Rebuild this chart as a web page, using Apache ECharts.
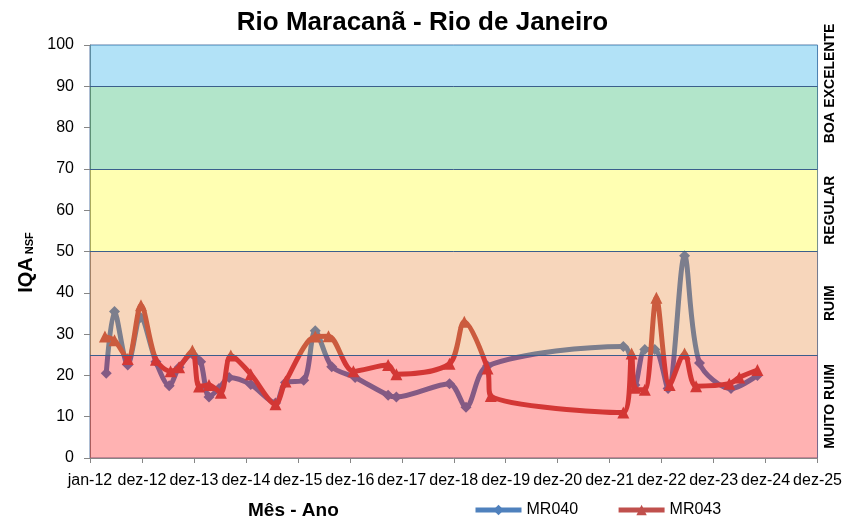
<!DOCTYPE html>
<html>
<head>
<meta charset="utf-8">
<script src="https://cdn.jsdelivr.net/npm/echarts@6/dist/echarts.min.js"></script>
<style>html,body{margin:0;padding:0;background:#fff;}#c{width:845px;height:519px;}</style>
</head>
<body>
<div id="c"></div>
<script>
// ---- data ----
const xTickLabels = ['jan-12','dez-12','dez-13','dez-14','dez-15','dez-16','dez-17','dez-18','dez-19','dez-20','dez-21','dez-22','dez-23','dez-24','dez-25'];
const yTicks = [0,10,20,30,40,50,60,70,80,90,100];
const classNames = ['MUITO RUIM','RUIM','REGULAR','BOA','EXCELENTE'];
const classBounds = [0,25,50,70,90,100];

const mr040Dates = ['2012-04-24','2012-06-21','2012-09-22','2012-12-22','2013-04-08','2013-07-10','2013-09-18','2013-12-20','2014-02-16','2014-04-16','2014-06-25','2014-09-04','2015-02-03','2015-07-27','2015-10-05','2016-02-10','2016-05-01','2016-08-25','2017-02-05','2017-09-25','2017-11-22','2018-11-30','2019-03-26','2019-08-24','2022-04-04','2022-06-24','2022-09-02','2022-11-11','2023-02-12','2023-06-08','2023-09-21','2024-04-29','2024-11-01'];
const mr040Values = [20.5,35.5,22.5,34,23.3,17.5,22,25.2,23.3,14.8,16.8,19.5,17.8,13.3,18.3,18.8,30.8,22.1,19.5,15.2,14.8,18,12.3,22.3,27,17.7,26.3,26.3,16.8,49,23,16.8,20];

const mr043Dates = ['2012-04-15','2012-06-21','2012-09-22','2012-12-24','2013-04-08','2013-07-20','2013-09-18','2013-12-20','2014-02-05','2014-04-16','2014-07-08','2014-09-16','2015-02-03','2015-07-27','2015-10-05','2016-05-01','2016-08-02','2017-01-24','2017-09-25','2017-11-22','2018-11-30','2019-03-14','2019-08-24','2019-09-16','2022-04-04','2022-06-01','2022-06-24','2022-09-02','2022-11-22','2023-02-23','2023-06-08','2023-08-28','2024-04-17','2024-06-26','2024-11-01'];
const mr043Values = [29.4,28.5,24,37,23.8,21,22,26,17.3,17.7,15.8,24.8,20.3,13,18.5,29.4,29.5,21,22.5,20.3,22.8,33,21.7,15,11,25.3,17,16.5,38.8,17.7,25.3,17.4,18,19.5,21.3];

// ---- helpers ----
const DAY = 86400000;
const ORIGIN = Date.UTC(2012,0,1);
const YEAR_STEP = 365;
function dayOffset(s){ const p = s.split('-').map(Number); return (Date.UTC(p[0],p[1]-1,p[2]) - ORIGIN)/DAY; }
function pairs(dates, vals){ return dates.map((d,i)=>[dayOffset(d), vals[i]]); }

const bandColors = ['rgba(255,0,0,0.30)','rgba(230,120,30,0.30)','rgba(255,255,0,0.30)','rgba(0,170,80,0.30)','rgba(0,160,230,0.30)'];
const FONT = '"Liberation Sans", Arial, sans-serif';

const chart = echarts.init(document.getElementById('c'), null, {renderer:'canvas'});
chart.setOption({
  backgroundColor:'#ffffff',
  animation:false,
  textStyle:{fontFamily:FONT},
  title:[
    {text:'Rio Maracanã - Rio de Janeiro', left:'center', top:5,
     textStyle:{fontFamily:FONT, fontSize:26, fontWeight:'bold', color:'#000'}},
    {text:'Mês - Ano', left:243, top:496,
     textStyle:{fontFamily:FONT, fontSize:19, fontWeight:'bold', color:'#000'}}
  ],
  legend:{
    data:['MR040','MR043'], left:468, top:497, itemWidth:46, itemHeight:13, itemGap:38,
    lineStyle:{width:5},
    textStyle:{fontFamily:FONT, fontSize:16, color:'#000'}
  },
  grid:{left:90, right:23, top:45, bottom:61, show:true, borderColor:'#5a7aa6', borderWidth:1},
  xAxis:{
    type:'value', min:0, max:YEAR_STEP*(xTickLabels.length-1), interval:YEAR_STEP,
    axisLine:{show:true, lineStyle:{color:'#868686'}},
    axisTick:{show:true, inside:false, length:5, lineStyle:{color:'#868686'}},
    splitLine:{show:false},
    axisLabel:{fontFamily:FONT, fontSize:16, color:'#000', margin:15,
      formatter:v=>xTickLabels[Math.round(v/YEAR_STEP)]||''}
  },
  yAxis:[
    {type:'value', min:0, max:100, interval:10,
     name:'{a|IQA}{b|NSF}', nameLocation:'middle', nameGap:52, nameRotate:90,
     nameTextStyle:{padding:[0,0,0,-22], rich:{a:{fontFamily:FONT, fontSize:20, fontWeight:'bold', color:'#000'}, b:{fontFamily:FONT, fontSize:11, fontWeight:'bold', color:'#000', padding:[8,0,0,3]}}},
     axisLine:{show:true, lineStyle:{color:'#868686'}},
     axisTick:{show:true, inside:false, length:6, lineStyle:{color:'#868686'}},
     splitLine:{show:false},
     axisLabel:{fontFamily:FONT, fontSize:16, color:'#000', margin:16}},
    {type:'value', min:0, max:100, interval:2.5, position:'right',
     axisLine:{show:false}, axisTick:{show:false}, splitLine:{show:false},
     axisLabel:{rotate:90, margin:6, fontFamily:FONT, fontSize:14, fontWeight:'bold', color:'#000',
       formatter:v=>{ for(let i=0;i<classNames.length;i++){ if(Math.abs(v-(classBounds[i]+classBounds[i+1])/2)<0.01) return classNames[i]; } return ''; }}}
  ],
  series:[
    {name:'MR040', type:'line', smooth:0.3, z:3,
     data:pairs(mr040Dates, mr040Values),
     symbol:'diamond', symbolSize:11,
     itemStyle:{color:'#4F81BD'}, lineStyle:{color:'#4F81BD', width:5}},
    {name:'MR043', type:'line', smooth:0.3, z:4,
     data:pairs(mr043Dates, mr043Values),
     symbol:'triangle', symbolSize:12,
     itemStyle:{color:'#C0504D'}, lineStyle:{color:'#C0504D', width:5}},
    {name:'bands', type:'line', data:[], silent:true,
     markArea:{z:10, silent:true,
       data:classNames.map((n,i)=>[{yAxis:classBounds[i], itemStyle:{color:bandColors[i]}},{yAxis:classBounds[i+1]}])},
     markLine:{z:11, silent:true, symbol:'none', label:{show:false},
       lineStyle:{color:'#3b5f8c', width:1, type:'solid'},
       data:classBounds.slice(1,5).map(b=>({yAxis:b}))}}
  ]
});
</script>
</body>
</html>
